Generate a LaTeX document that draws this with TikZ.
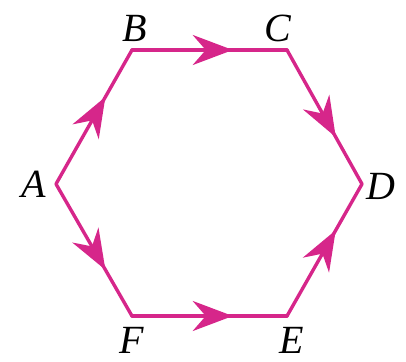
\documentclass[tikz,border=0pt]{standalone}
\usepackage{fontspec}
\setmainfont{Liberation Serif}
\usetikzlibrary{arrows.meta,decorations.markings}
\definecolor{hexmagenta}{RGB}{214, 38, 138}

\begin{document}
\begin{tikzpicture}[
    x=1pt, y=-1pt,
    every node/.style={font=\fontsize{40}{40}\selectfont\itshape, inner sep=0pt},
    edge/.style={draw=hexmagenta, line width=3.4pt, line cap=round, line join=round},
    midarrow/.style={postaction={decorate}, decoration={markings,
        mark=at position 0.65 with {\arrow[hexmagenta]{Stealth[length=40pt, width=30pt, inset=13pt]}}}}
]
\useasboundingbox (0,0) rectangle (406,361);

% hexagon corners
\coordinate (A) at (56,184);
\coordinate (B) at (132,50);
\coordinate (C) at (287,50);
\coordinate (D) at (362,184);
\coordinate (E) at (287,316);
\coordinate (F) at (132,316);

% labels
\node (labA) at (34,184) {A};
\node (labB) at (135,28) {B};
\node (labC) at (278,28) {C};
\node (labD) at (381,186) {D};
\node (labE) at (292,340) {E};
\node (labF) at (132,340) {F};

% sides
\draw[edge, midarrow] (A) -- (B);
\draw[edge, midarrow] (B) -- (C);
\draw[edge, midarrow] (C) -- (D);
\draw[edge, midarrow] (A) -- (F);
\draw[edge, midarrow] (F) -- (E);
\draw[edge, midarrow] (E) -- (D);

\end{tikzpicture}
\end{document}
